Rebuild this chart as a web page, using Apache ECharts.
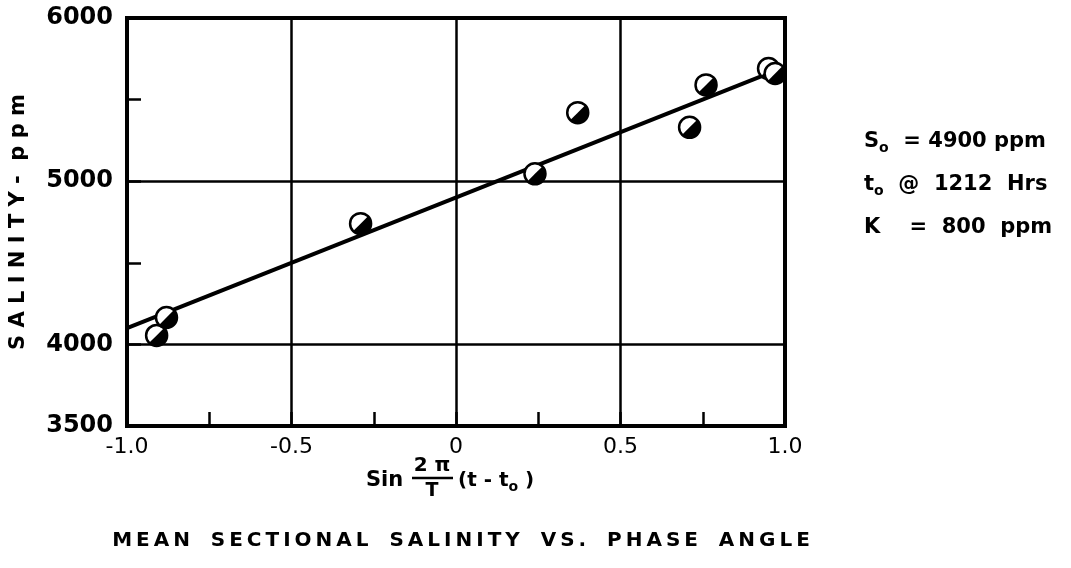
<!DOCTYPE html>
<html>
<head>
<meta charset="utf-8">
<script src="https://cdn.jsdelivr.net/npm/echarts@6/dist/echarts.min.js"></script>
<style>
html, body { margin: 0; padding: 0; background: #fff; }
#main { width: 1071px; height: 568px; }
</style>
</head>
<body>
<div id="main"></div>
<script>
var phase = [-0.91, -0.88, -0.29, 0.24, 0.37, 0.71, 0.76, 0.95, 0.97];
var salinity = [4055, 4165, 4740, 5045, 5420, 5330, 5590, 5690, 5660];
// fitted line  S = So + K sin(...)
var fitX = [-1, 1];
var fitY = [4100, 5700];
// heavy grid lines
var xGrid = [-0.5, 0, 0.5];
var yGrid = [4000, 5000];
// tick labels
var yTickLabels = [3500, 4000, 5000, 6000];
var xTickLabels = { '-1': '-1.0', '-0.5': '-0.5', '0': '0', '0.5': '0.5', '1': '1.0' };

var FONT = '"DejaVu Sans", sans-serif';

function spaced(s) {
    return s.split('').join('\u2009');
}

var pts = [];
for (var i = 0; i < phase.length; i++) pts.push([phase[i], salinity[i]]);
var fit = [];
for (var j = 0; j < fitX.length; j++) fit.push([fitX[j], fitY[j]]);

var gridLines = [];
xGrid.forEach(function (v) { gridLines.push({ xAxis: v }); });
yGrid.forEach(function (v) { gridLines.push({ yAxis: v }); });

var sub = { s: { font: 'bold 14px ' + FONT, fill: '#000', padding: [13, 0, 0, 0] } };

var myChart = echarts.init(document.getElementById('main'));

var option = {
    animation: false,
    backgroundColor: '#fff',
    grid: {
        left: 127, right: 286, top: 18, bottom: 142,
        show: true, borderColor: '#000', borderWidth: 4
    },
    xAxis: {
        type: 'value', min: -1, max: 1, interval: 0.25,
        axisLine: { onZero: false, lineStyle: { color: '#000', width: 4 } },
        axisTick: { inside: true, length: 14, lineStyle: { color: '#000', width: 2.5 } },
        splitLine: { show: false },
        axisLabel: {
            margin: 10, color: '#000', fontFamily: FONT, fontSize: 22,
            formatter: function (v) { return xTickLabels[String(v)] || ''; }
        }
    },
    yAxis: {
        type: 'value', min: 3500, max: 6000, interval: 500,
        name: 'S A L I N I T Y -  p p m',
        nameLocation: 'middle', nameGap: 98, nameRotate: 90,
        nameTextStyle: { color: '#000', fontFamily: FONT, fontWeight: 'bold', fontSize: 21 },
        axisLine: { onZero: false, lineStyle: { color: '#000', width: 4 } },
        axisTick: { inside: true, length: 14, lineStyle: { color: '#000', width: 2.5 } },
        splitLine: { show: false },
        axisLabel: {
            margin: 14, color: '#000', fontFamily: FONT, fontWeight: 'bold', fontSize: 24,
            formatter: function (v) { return yTickLabels.indexOf(v) >= 0 ? String(v) : ''; }
        }
    },
    series: [
        {
            type: 'line',
            data: fit,
            symbol: 'none',
            lineStyle: { color: '#000', width: 4 },
            z: 3,
            markLine: {
                silent: true,
                symbol: 'none',
                label: { show: false },
                lineStyle: { color: '#000', width: 2.5, type: 'solid' },
                data: gridLines
            }
        },
        {
            type: 'custom',
            data: pts,
            clip: false,
            z: 5,
            renderItem: function (params, api) {
                var p = api.coord([api.value(0), api.value(1)]);
                return {
                    type: 'group',
                    children: [
                        { type: 'circle', shape: { cx: p[0], cy: p[1], r: 10.5 },
                          style: { fill: '#fff', stroke: '#000', lineWidth: 2.5 } },
                        { type: 'sector', shape: { cx: p[0], cy: p[1], r0: 0, r: 10.5,
                          startAngle: -Math.PI / 4, endAngle: Math.PI * 3 / 4, clockwise: true },
                          style: { fill: '#000' } }
                    ]
                };
            }
        }
    ],
    graphic: [
        // x axis name:  Sin 2pi/T (t - to)
        { type: 'text', x: 366, y: 481,
          style: { text: 'Sin', font: 'bold 21px ' + FONT, fill: '#000',
                   textAlign: 'left', textVerticalAlign: 'middle', align: 'left', verticalAlign: 'middle' } },
        { type: 'text', x: 432, y: 466,
          style: { text: '2 π', font: 'bold 20px ' + FONT, fill: '#000',
                   textAlign: 'center', textVerticalAlign: 'middle', align: 'center', verticalAlign: 'middle' } },
        { type: 'line', shape: { x1: 412, y1: 478, x2: 453, y2: 478 }, style: { stroke: '#000', lineWidth: 2.5 } },
        { type: 'text', x: 432, y: 491,
          style: { text: 'T', font: 'bold 19px ' + FONT, fill: '#000',
                   textAlign: 'center', textVerticalAlign: 'middle', align: 'center', verticalAlign: 'middle' } },
        { type: 'text', x: 458, y: 481,
          style: { text: '(t - t{s|o} )', font: 'bold 20px ' + FONT, fill: '#000',
                   textAlign: 'left', textVerticalAlign: 'middle', align: 'left', verticalAlign: 'middle',
                   rich: sub } },
        // caption
        { type: 'text', x: 461, y: 541,
          style: { text: spaced('MEAN') + '   ' + spaced('SECTIONAL') + '   ' + spaced('SALINITY') + '   ' +
                         spaced('VS.') + '   ' + spaced('PHASE') + '   ' + spaced('ANGLE'),
                   font: 'bold 20px ' + FONT, fill: '#000',
                   textAlign: 'center', textVerticalAlign: 'middle', align: 'center', verticalAlign: 'middle' } },
        // constants on the right
        { type: 'text', x: 864, y: 142,
          style: { text: 'S{s|o}  = 4900 ppm', font: 'bold 21px ' + FONT, fill: '#000',
                   textAlign: 'left', textVerticalAlign: 'middle', align: 'left', verticalAlign: 'middle',
                   rich: sub } },
        { type: 'text', x: 864, y: 185,
          style: { text: 't{s|o}  @  1212  Hrs', font: 'bold 21px ' + FONT, fill: '#000',
                   textAlign: 'left', textVerticalAlign: 'middle', align: 'left', verticalAlign: 'middle',
                   rich: sub } },
        { type: 'text', x: 864, y: 228,
          style: { text: 'K    =  800  ppm', font: 'bold 21px ' + FONT, fill: '#000',
                   textAlign: 'left', textVerticalAlign: 'middle', align: 'left', verticalAlign: 'middle' } }
    ]
};

myChart.setOption(option);
</script>
</body>
</html>
